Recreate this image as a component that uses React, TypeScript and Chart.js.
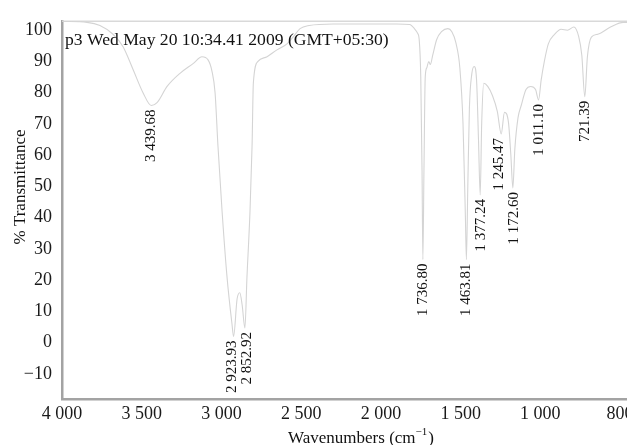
import React, { useEffect, useRef } from 'react';
import { Chart, registerables } from 'chart.js';

Chart.register(...registerables);

// Spectrum (wavenumber in cm-1, % transmittance)
const wavenumbers = [
  4000, 3843, 3762, 3680, 3617, 3555, 3492, 3439.68, 3404, 3341, 3260, 3178, 3122, 3084, 3060, 3040,
  3022, 2996, 2965, 2934, 2923.93, 2902, 2885, 2870, 2852.92, 2840, 2821, 2808, 2800, 2771, 2714,
  2652, 2589, 2551, 2507, 2450, 2300, 2100, 1900, 1820, 1790, 1770, 1760, 1750, 1742, 1736.8, 1730,
  1722, 1712, 1700, 1690, 1675, 1650, 1620, 1580, 1555, 1530, 1505, 1485, 1470, 1463.81, 1455, 1445,
  1430, 1415, 1400, 1388, 1377.24, 1368, 1355, 1330, 1300, 1270, 1245.47, 1225, 1200, 1185, 1172.6,
  1160, 1140, 1120, 1090, 1060, 1030, 1011.1, 995, 975, 950, 910, 870, 830, 790, 760, 740, 721.39,
  705, 680, 640, 560, 480, 400,
];
const transmittance = [
  102.8, 102.5, 101.5, 98.7, 94.7, 87.5, 80, 75.9, 76.8, 82, 86.2, 89.3, 91.5, 90.5, 87, 80,
  63, 42, 21, 6, 2, 14, 16, 12, 4.7, 21, 42, 63, 83, 90, 91.5,
  93.7, 95.6, 97.8, 100.5, 101.5, 102, 102, 102, 101.8, 100.5, 99, 97, 85, 55, 26.6, 55,
  85, 88, 90, 89, 92, 97, 99.5, 100.5, 99.5, 96, 88, 70, 40, 26.6, 50, 75,
  86, 88.4, 84, 65, 47.3, 70, 83, 82, 79, 74, 66.8, 73.7, 70.5, 60, 49.5,
  62, 72, 75.9, 81, 82, 81, 77.7, 84, 90, 95.6, 98.7, 100.3, 100, 101, 98, 92, 78.7,
  91.5, 97.8, 98.7, 101, 102.5, 102.5,
];

// Peak annotations
const peakWavenumbers = [3439.68, 2923.93, 2852.92, 1736.8, 1463.81, 1377.24, 1245.47, 1172.6, 1011.1, 721.39];
const peakTransmittance = [75.9, 2, 4.7, 26.6, 26.6, 47.3, 66.8, 49.5, 77.7, 78.7];
const peakLabels = ['3 439.68', '2 923.93', '2 852.92', '1 736.80', '1 463.81', '1 377.24', '1 245.47', '1 172.60', '1 011.10', '721.39'];

// Axis ticks
const xTickValues = [4000, 3500, 3000, 2500, 2000, 1500, 1000, 500];
const xTickLabels = ['4 000', '3 500', '3 000', '2 500', '2 000', '1 500', '1 000', '800'];
const yTickValues = [-10, 0, 10, 20, 30, 40, 50, 60, 70, 80, 90, 100];
const yTickLabels = ['\u221210', '0', '10', '20', '30', '40', '50', '60', '70', '80', '90', '100'];

const stampText = 'p3 Wed May 20 10:34.41 2009 (GMT+05:30)';
const yTitle = '% Transmittance';
const xTitleMain = 'Wavenumbers (cm';
const xTitleSup = '\u22121';
const xTitleEnd = ')';

const SERIF = '"Liberation Serif", "Times New Roman", serif';

const annotatePlugin = {
  id: 'annotate',
  beforeDatasetsDraw(chart: any) {
    const { ctx, chartArea } = chart;
    ctx.save();
    ctx.strokeStyle = '#d9d9d9';
    ctx.lineWidth = 1.5;
    ctx.beginPath();
    ctx.moveTo(chartArea.left, chartArea.top + 0.5);
    ctx.lineTo(chartArea.right, chartArea.top + 0.5);
    ctx.stroke();
    ctx.restore();
  },
  afterDraw(chart: any) {
    const { ctx, chartArea, scales } = chart;
    const xs = scales.x;
    const ys = scales.y;
    ctx.save();
    ctx.fillStyle = '#111';

    // time stamp
    ctx.font = `17.6px ${SERIF}`;
    ctx.textAlign = 'left';
    ctx.textBaseline = 'alphabetic';
    ctx.fillText(stampText, chartArea.left + 3, chartArea.top + 24);

    // peak labels (rotated), spread apart if too close
    const items = peakWavenumbers.map((w, i) => ({
      x: xs.getPixelForValue(w),
      y: ys.getPixelForValue(peakTransmittance[i]) + 4,
      t: peakLabels[i],
    }));
    items.sort((a, b) => a.x - b.x);
    const minGap = 15;
    for (let i = 1; i < items.length; i++) {
      const d = items[i].x - items[i - 1].x;
      if (d < minGap) {
        items[i - 1].x -= (minGap - d) / 2;
        items[i].x += (minGap - d) / 2;
      }
    }
    ctx.font = `15px ${SERIF}`;
    ctx.textAlign = 'right';
    ctx.textBaseline = 'middle';
    for (const it of items) {
      ctx.save();
      ctx.translate(it.x, it.y);
      ctx.rotate(-Math.PI / 2);
      ctx.fillText(it.t, 0, 0);
      ctx.restore();
    }

    // y axis title
    ctx.save();
    ctx.font = `17px ${SERIF}`;
    ctx.textAlign = 'center';
    ctx.textBaseline = 'middle';
    ctx.translate(21, 187);
    ctx.rotate(-Math.PI / 2);
    ctx.fillText(yTitle, 0, 0);
    ctx.restore();

    // x axis title with superscript
    ctx.font = `17px ${SERIF}`;
    const wMain = ctx.measureText(xTitleMain).width;
    const wEnd = ctx.measureText(xTitleEnd).width;
    ctx.font = `11px ${SERIF}`;
    const wSup = ctx.measureText(xTitleSup).width;
    const total = wMain + wSup + 1 + wEnd;
    const cx = 361;
    const by = 443;
    let x0 = cx - total / 2;
    ctx.textAlign = 'left';
    ctx.textBaseline = 'alphabetic';
    ctx.font = `17px ${SERIF}`;
    ctx.fillText(xTitleMain, x0, by);
    x0 += wMain;
    ctx.font = `11px ${SERIF}`;
    ctx.fillText(xTitleSup, x0, by - 8);
    x0 += wSup + 1;
    ctx.font = `17px ${SERIF}`;
    ctx.fillText(xTitleEnd, x0, by);

    ctx.restore();
  },
};

export default function App() {
  const ref = useRef<HTMLCanvasElement | null>(null);

  useEffect(() => {
    if (!ref.current) return;
    const chart = new Chart(ref.current, {
      type: 'line',
      data: {
        datasets: [
          {
            data: wavenumbers.map((w, i) => ({ x: w, y: transmittance[i] })),
            borderColor: 'rgb(212,212,212)',
            borderWidth: 1.1,
            pointRadius: 0,
            cubicInterpolationMode: 'monotone',
            fill: false,
          },
        ],
      },
      options: {
        responsive: false,
        animation: false,
        devicePixelRatio: 1,
        layout: { padding: { top: 14, right: 16, left: 0, bottom: 0 } },
        plugins: { legend: { display: false }, tooltip: { enabled: false } },
        scales: {
          x: {
            type: 'linear',
            reverse: true,
            min: 350,
            max: 4000,
            grid: { display: false, drawTicks: false },
            border: { display: true, color: '#a3a3a3', width: 2.5 },
            ticks: {
              font: { family: SERIF, size: 18 },
              color: '#1a1a1a',
              padding: 4,
              autoSkip: false,
              maxRotation: 0,
              callback: (v: any) => {
                const i = xTickValues.indexOf(Number(v));
                return i >= 0 ? xTickLabels[i] : '';
              },
            },
            afterBuildTicks: (scale: any) => {
              scale.ticks = xTickValues.map((v) => ({ value: v }));
            },
            afterFit: (scale: any) => {
              scale.height = 46;
            },
          },
          y: {
            type: 'linear',
            min: -18,
            max: 103,
            grid: { display: false, drawTicks: false },
            border: { display: true, color: '#a3a3a3', width: 2.5 },
            ticks: {
              font: { family: SERIF, size: 18 },
              color: '#1a1a1a',
              padding: 10,
              callback: (v: any) => {
                const i = yTickValues.indexOf(Number(v));
                return i >= 0 ? yTickLabels[i] : '';
              },
            },
            afterBuildTicks: (scale: any) => {
              scale.ticks = yTickValues.map((v) => ({ value: v }));
            },
            afterFit: (scale: any) => {
              scale.width = 62;
            },
          },
        },
      },
      plugins: [annotatePlugin],
    });
    return () => chart.destroy();
  }, []);

  return (
    <div
      style={{
        position: 'fixed',
        left: 0,
        top: 0,
        width: 627,
        height: 445,
        overflow: 'hidden',
        background: '#fff',
      }}
    >
      <canvas ref={ref} width={660} height={445} style={{ display: 'block' }} />
    </div>
  );
}
